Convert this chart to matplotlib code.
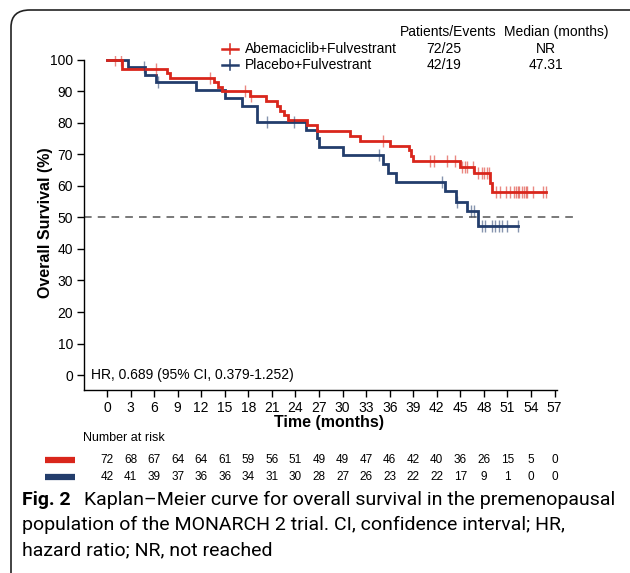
import matplotlib

matplotlib.use("Agg")
import matplotlib.pyplot as plt
import matplotlib.transforms as mtransforms
import numpy as np
from matplotlib.lines import Line2D
from matplotlib.patches import FancyBboxPatch

# Kaplan-Meier steps (months, % surviving)
abema_times = [0, 1.9, 7.6, 8.0, 13.6, 14.1, 14.6, 18.2, 20.3, 21.6, 22.0, 22.5, 23.0,
               25.5, 26.7, 31.0, 32.2, 36.0, 38.4, 38.7, 39.0, 44.9, 46.8, 48.8, 49.0]
abema_surv = [100, 97.2, 95.8, 94.4, 92.9, 91.5, 90.1, 88.4, 86.9, 85.4, 83.9, 82.4, 80.8,
              79.2, 77.5, 75.9, 74.2, 72.8, 71.3, 69.6, 67.9, 66.0, 64.0, 61.0, 58.0]
abema_end = 55.9
abema_censor = [1.0, 1.8, 6.3, 13.1, 17.6, 18.4, 35.2, 41.1, 41.7, 43.3, 44.3, 45.2, 45.6,
                45.8, 46.6, 47.3, 47.7, 48.0, 48.4, 48.7, 49.6, 50.1, 50.8, 51.3, 51.8,
                52.1, 52.3, 52.5, 52.8, 53.1, 53.4, 53.5, 54.3, 55.5, 55.9]

placebo_times = [0, 2.7, 4.8, 6.3, 11.3, 15.0, 17.2, 19.1, 25.4, 26.7, 27.0, 30.0, 35.1,
                 35.8, 36.8, 43.1, 44.4, 45.8, 47.3]
placebo_surv = [100, 97.6, 95.2, 92.9, 90.5, 88.0, 85.4, 80.2, 77.7, 75.1, 72.5, 69.8, 67.0,
                64.1, 61.3, 58.3, 55.0, 52.0, 47.2]
placebo_end = 52.3
placebo_censor = [4.7, 6.5, 20.4, 23.8, 34.7, 42.6, 44.6, 46.4, 46.7, 47.8, 48.1, 49.0,
                  49.4, 49.9, 50.3, 51.0, 52.3]

risk_times = list(range(0, 58, 3))
abema_risk = [72, 68, 67, 64, 64, 61, 59, 56, 51, 49, 49, 47, 46, 42, 40, 36, 26, 15, 5, 0]
placebo_risk = [42, 41, 39, 37, 36, 36, 34, 31, 30, 28, 27, 26, 23, 22, 22, 17, 9, 1, 0, 0]

arm_labels = ["Abemaciclib+Fulvestrant", "Placebo+Fulvestrant"]
arm_events = ["72/25", "42/19"]
arm_medians = ["NR", "47.31"]

caption_lines = [
    "Kaplan\u2013Meier curve for overall survival in the premenopausal",
    "population of the MONARCH 2 trial. CI, confidence interval; HR,",
    "hazard ratio; NR, not reached",
]

RED = "#d9261c"
BLUE = "#233d6c"
W, H = 630, 573
FONT = "Liberation Sans"
CAP_FONT = "Roboto"


def fx(px):
    return px / W


def fy(py):
    return 1 - py / H


def survival_at(times, surv, t):
    idx = np.searchsorted(times, t, side="right") - 1
    return np.asarray(surv)[idx]


def draw_arm(ax, times, surv, end, censor, color):
    xs = list(times) + [end]
    ys = list(surv) + [surv[-1]]
    ax.step(xs, ys, where="post", color=color, lw=2.0, solid_joinstyle="miter", zorder=3)
    ax.plot(censor, survival_at(times, surv, censor), ls="none", marker="|",
            ms=9, mew=1.0, color=color, alpha=0.55, zorder=4)


fig = plt.figure(figsize=(W / 100, H / 100), dpi=100)
plt.rcParams["font.family"] = [FONT, "DejaVu Sans"]

# the rounded frame around the figure panel
frame = FancyBboxPatch((fx(11), fy(600)), fx(660) - fx(11), fy(10) - fy(600),
                       boxstyle="round,pad=0,rounding_size=0.03", transform=fig.transFigure,
                       fill=False, ec="#222222", lw=1.2, clip_on=False)
fig.patches.append(frame)

ax = fig.add_axes([fx(84), fy(390), fx(575) - fx(84), fy(55.8) - fy(390)])
ax.set_xlim(-2.93, 59.6)
ax.set_ylim(-4.75, 101.3)

draw_arm(ax, placebo_times, placebo_surv, placebo_end, placebo_censor, BLUE)
draw_arm(ax, abema_times, abema_surv, abema_end, abema_censor, RED)
ax.axhline(50, color="#555555", lw=1.1, ls=(0, (5, 4)), zorder=2)

for side in ("top", "right"):
    ax.spines[side].set_visible(False)
ax.spines["left"].set_bounds(-4.75, 100)
ax.spines["bottom"].set_bounds(-2.93, 57.3)
for side in ("left", "bottom"):
    ax.spines[side].set_linewidth(1.0)
ax.set_xticks(risk_times)
ax.set_yticks(range(0, 101, 10))
ax.tick_params(axis="both", direction="out", length=5, width=1.0, labelsize=10, pad=3)
ax.set_xlabel("Time (months)", fontsize=11.5, fontweight="bold", labelpad=0)
ax.set_ylabel("Overall Survival (%)", fontsize=11.5, fontweight="bold", labelpad=-2)

ax.text(-2.0, 0, "HR, 0.689 (95% CI, 0.379-1.252)", fontsize=10, va="center", ha="left")

# legend block with patient/event counts and medians
fig.text(fx(448), fy(32), "Patients/Events", fontsize=10, ha="center", va="center")
fig.text(fx(556), fy(32), "Median (months)", fontsize=10, ha="center", va="center")
for i, (label, ev, med, color) in enumerate(zip(arm_labels, arm_events, arm_medians, [RED, BLUE])):
    py = 49 + 16 * i
    fig.add_artist(Line2D([fx(222), fx(238)], [fy(py), fy(py)], color=color, lw=1.8))
    fig.add_artist(Line2D([fx(230), fx(230)], [fy(py - 5), fy(py + 5)], color=color, lw=1.1))
    fig.text(fx(245), fy(py), label, fontsize=10, ha="left", va="center")
    fig.text(fx(444), fy(py), ev, fontsize=10, ha="center", va="center")
    fig.text(fx(546), fy(py), med, fontsize=10, ha="center", va="center")

# number at risk table
blend = mtransforms.blended_transform_factory(ax.transData, fig.transFigure)
fig.text(fx(83), fy(438), "Number at risk", fontsize=9, ha="left", va="center")
for py, counts, color in [(460, abema_risk, RED), (477, placebo_risk, BLUE)]:
    fig.add_artist(Line2D([fx(45), fx(75)], [fy(py), fy(py)], color=color, lw=4.5,
                          solid_capstyle="butt"))
    for t, n in zip(risk_times, counts):
        ax.text(t, fy(py), str(n), transform=blend, fontsize=8.5, ha="center", va="center",
                clip_on=False)

# caption: size the first line so it spans the same width as the original
renderer = fig.canvas.get_renderer()
fig.text(fx(22), fy(500), "Fig. 2", fontsize=14, fontweight="bold", family=CAP_FONT,
         ha="left", va="center")
first = fig.text(fx(84), fy(500), caption_lines[0], fontsize=13, family=CAP_FONT,
                 ha="left", va="center")
width = first.get_window_extent(renderer).width
cap_size = 13 * (612 - 84) / width
first.set_fontsize(cap_size)
for py, line in zip([525, 550], caption_lines[1:]):
    fig.text(fx(22), fy(py), line, fontsize=cap_size, family=CAP_FONT, ha="left", va="center")

fig.savefig("out.png", dpi=100)
